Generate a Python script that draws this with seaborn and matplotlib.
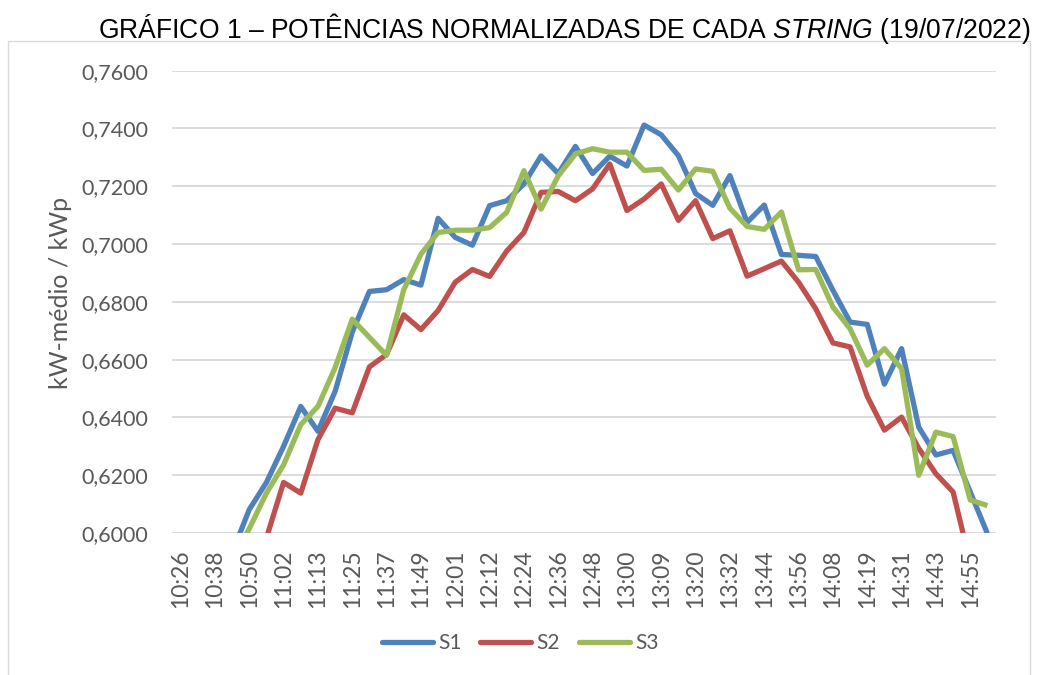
import matplotlib
matplotlib.use("Agg")
import matplotlib.pyplot as plt
import seaborn as sns
import pandas as pd
from matplotlib.patches import Rectangle
from matplotlib.ticker import FuncFormatter

times = ["10:26", "10:32", "10:38", "10:44", "10:50", "10:56", "11:02", "11:08",
         "11:13", "11:19", "11:25", "11:31", "11:37", "11:43", "11:49", "11:55",
         "12:01", "12:06", "12:12", "12:18", "12:24", "12:30", "12:36", "12:42",
         "12:48", "12:54", "13:00", "13:04", "13:09", "13:14", "13:20", "13:26",
         "13:32", "13:38", "13:44", "13:50", "13:56", "14:02", "14:08", "14:13",
         "14:19", "14:25", "14:31", "14:37", "14:43", "14:49", "14:55", "15:01"]

s1 = [0.5712, 0.5778, 0.5851, 0.5931, 0.6081, 0.6175, 0.6300, 0.6438,
      0.6352, 0.6490, 0.6695, 0.6836, 0.6842, 0.6877, 0.6858, 0.7089,
      0.7023, 0.6996, 0.7133, 0.7150, 0.7208, 0.7305, 0.7244, 0.7338,
      0.7244, 0.7304, 0.7270, 0.7412, 0.7378, 0.7306, 0.7175, 0.7134,
      0.7237, 0.7075, 0.7135, 0.6964, 0.6961, 0.6957, 0.6840, 0.6730,
      0.6722, 0.6515, 0.6638, 0.6366, 0.6270, 0.6286, 0.6142, 0.5998]

s2 = [0.5702, 0.5741, 0.5795, 0.5843, 0.5889, 0.5983, 0.6175, 0.6138,
      0.6323, 0.6432, 0.6416, 0.6575, 0.6618, 0.6755, 0.6704, 0.6770,
      0.6868, 0.6912, 0.6888, 0.6976, 0.7040, 0.7179, 0.7182, 0.7150,
      0.7191, 0.7277, 0.7116, 0.7156, 0.7208, 0.7082, 0.7150, 0.7019,
      0.7046, 0.6889, 0.6915, 0.6941, 0.6868, 0.6776, 0.6658, 0.6644,
      0.6473, 0.6356, 0.6401, 0.6293, 0.6205, 0.6142, 0.5896, 0.5750]

s3 = [0.5694, 0.5760, 0.5832, 0.5901, 0.6015, 0.6138, 0.6236, 0.6375,
      0.6438, 0.6572, 0.6740, 0.6677, 0.6615, 0.6842, 0.6965, 0.7040,
      0.7048, 0.7048, 0.7057, 0.7110, 0.7254, 0.7121, 0.7236, 0.7312,
      0.7330, 0.7318, 0.7318, 0.7255, 0.7259, 0.7187, 0.7260, 0.7252,
      0.7124, 0.7061, 0.7051, 0.7111, 0.6911, 0.6912, 0.6782, 0.6707,
      0.6581, 0.6638, 0.6569, 0.6200, 0.6349, 0.6334, 0.6114, 0.6095]

series_names = ["S1", "S2", "S3"]
colors = ["#4F81BD", "#C0504D", "#9BBB59"]

df = pd.DataFrame({
    "idx": list(range(len(times))) * 3,
    "valor": s1 + s2 + s3,
    "serie": [n for n in series_names for _ in times],
})

sns.set_theme(style="white")
plt.rcParams["font.family"] = ["Lato", "DejaVu Sans"]
plt.rcParams["mathtext.fontset"] = "custom"
plt.rcParams["mathtext.it"] = "Liberation Sans:italic"
plt.rcParams["mathtext.rm"] = "Liberation Sans"

W, H = 1038, 675
fig = plt.figure(figsize=(W / 100, H / 100), dpi=100)
ax = fig.add_axes([172 / W, 1 - 533 / H, (996 - 172) / W, (533 - 70.7) / H])

# chart frame
fig.patches.append(Rectangle((8 / W, -0.05), (1030 - 8) / W, 1.05 - 41 / H,
                             transform=fig.transFigure, fill=False,
                             edgecolor="#D9D9D9", lw=1.0, zorder=0))

sns.lineplot(data=df, x="idx", y="valor", hue="serie", palette=colors,
             sort=False, linewidth=3.8, ax=ax, legend=False)
for ln in ax.lines:
    ln.set_solid_joinstyle("round")
    ln.set_solid_capstyle("butt")

ax.set_xlim(-0.5, len(times) - 0.5)
ax.set_ylim(0.60, 0.76)
ax.set_yticks([0.60 + 0.02 * k for k in range(9)])
ax.yaxis.set_major_formatter(FuncFormatter(lambda v, p: f"{v:.4f}".replace(".", ",")))
ax.set_xticks(list(range(0, len(times), 2)))
ax.set_xticklabels(times[::2], rotation=90)
ax.grid(axis="y", color="#D9D9D9", lw=1.3)
ax.set_axisbelow(True)
for sp in ax.spines.values():
    sp.set_visible(False)
ax.tick_params(axis="x", length=0, pad=12, labelsize=16.5, labelcolor="#595959")
ax.tick_params(axis="y", length=0, pad=17, labelsize=15.5, labelcolor="#595959")
ax.set_xlabel("")
ax.set_ylabel("kW-médio / kWp", fontsize=18, color="#595959")
ax.yaxis.set_label_coords((72 - 172) / (996 - 172), 0.52)

fig.text(564 / W, 1 - 28 / H,
         r"GRÁFICO 1 – POTÊNCIAS NORMALIZADAS DE CADA $\it{STRING}$ (19/07/2022)",
         ha="center", va="center", fontsize=19.1, color="#000000",
         family="Liberation Sans")

handles = [plt.Line2D([], [], color=c, lw=3.8, solid_capstyle="round") for c in colors]
fig.legend(handles, series_names, loc="center", bbox_to_anchor=(520 / W, 1 - 643 / H),
           ncol=3, frameon=False, fontsize=15, handlelength=2.45, handletextpad=0.25,
           columnspacing=0.9, labelcolor="#595959")

fig.savefig("out.png", dpi=100)
